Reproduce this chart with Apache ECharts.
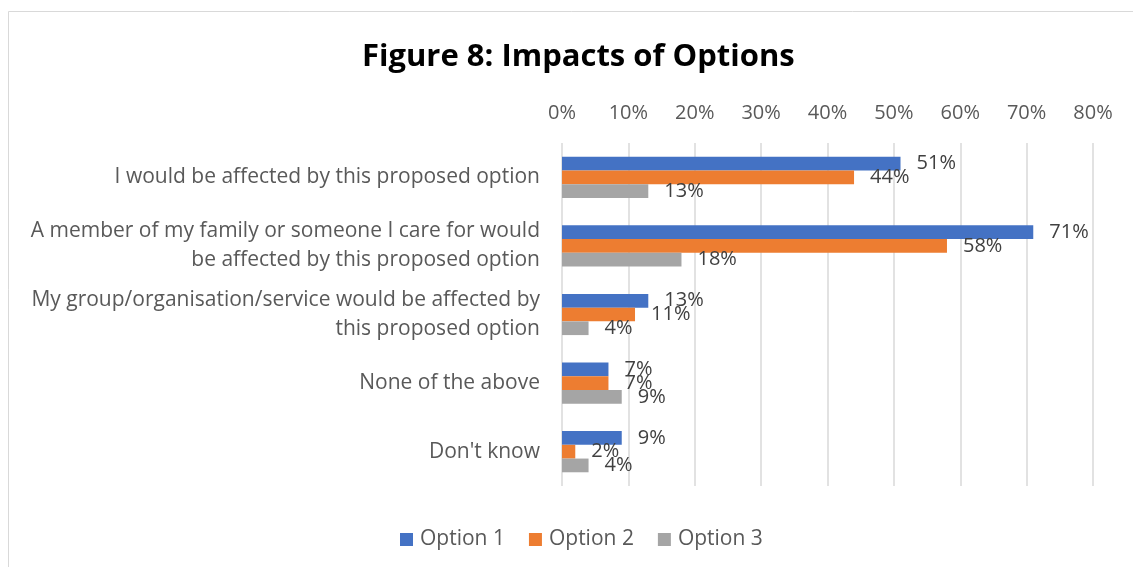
<!DOCTYPE html>
<html>
<head>
<meta charset="utf-8">
<script src="https://cdn.jsdelivr.net/npm/echarts@6/dist/echarts.min.js"></script>
<style>
  html, body { margin: 0; padding: 0; background: #fff; }
  #chart { width: 1133px; height: 567px; }
</style>
</head>
<body>
<div id="chart"></div>
<script>
// Survey responses: share of respondents affected by each option (%)
const categories = [
  'I would be affected by this proposed option',
  'A member of my family or someone I care for would\nbe affected by this proposed option',
  'My group/organisation/service would be affected by\nthis proposed option',
  'None of the above',
  "Don't know"
];
const option1 = [51, 71, 13, 7, 9];
const option2 = [44, 58, 11, 7, 2];
const option3 = [13, 18, 4, 9, 4];
const seriesNames = ['Option 1', 'Option 2', 'Option 3'];
const seriesColors = ['#4472C4', '#ED7D31', '#A5A5A5'];

const FONT = '"Open Sans"';
const chart = echarts.init(document.getElementById('chart'));

function barSeries(name, data, color) {
  return {
    name: name,
    type: 'bar',
    data: data,
    barGap: '0%',
    barCategoryGap: '40%',
    itemStyle: { color: color },
    label: {
      show: true,
      position: 'right',
      distance: 16,
      offset: [0, 3],
      padding: [4, 0, 0, 0],
      formatter: '{c}%',
      fontFamily: FONT,
      fontSize: 20,
      color: '#404040'
    },
    labelLayout: { hideOverlap: false }
  };
}

chart.setOption({
  backgroundColor: '#fff',
  animation: false,
  graphic: [{
    type: 'rect',
    shape: { x: 8.5, y: 11.5, width: 1140, height: 570 },
    style: { fill: 'none', stroke: '#d9d9d9', lineWidth: 1 },
    silent: true,
    z: -1
  }],
  title: {
    text: 'Figure 8: Impacts of Options',
    left: 357,
    top: 37,
    textStyle: { fontFamily: FONT, fontWeight: 'bold', fontSize: 31, color: '#000' }
  },
  legend: {
    bottom: 12,
    left: 395,
    itemWidth: 13,
    itemHeight: 13,
    itemGap: 24,
    icon: 'rect',
    data: seriesNames,
    textStyle: { fontFamily: FONT, fontSize: 21, color: '#595959', padding: [0, 0, 0, 2] }
  },
  grid: { left: 562, right: 40, top: 143, bottom: 81, containLabel: false },
  xAxis: {
    type: 'value',
    position: 'top',
    min: 0,
    max: 80,
    interval: 10,
    axisLine: { show: false },
    axisTick: { show: false },
    axisLabel: {
      formatter: '{value}%',
      fontFamily: FONT,
      fontSize: 20,
      color: '#595959',
      margin: 20
    },
    splitLine: { show: true, lineStyle: { color: '#d9d9d9', width: 1.5 } }
  },
  yAxis: {
    type: 'category',
    inverse: true,
    data: categories,
    axisLine: { show: false },
    axisTick: { show: false },
    axisLabel: {
      fontFamily: FONT,
      fontSize: 21,
      color: '#595959',
      margin: 22,
      lineHeight: 29,
      padding: [4, 0, 0, 0],
      align: 'right'
    }
  },
  series: [
    barSeries(seriesNames[0], option1, seriesColors[0]),
    barSeries(seriesNames[1], option2, seriesColors[1]),
    barSeries(seriesNames[2], option3, seriesColors[2])
  ]
});
</script>
</body>
</html>
